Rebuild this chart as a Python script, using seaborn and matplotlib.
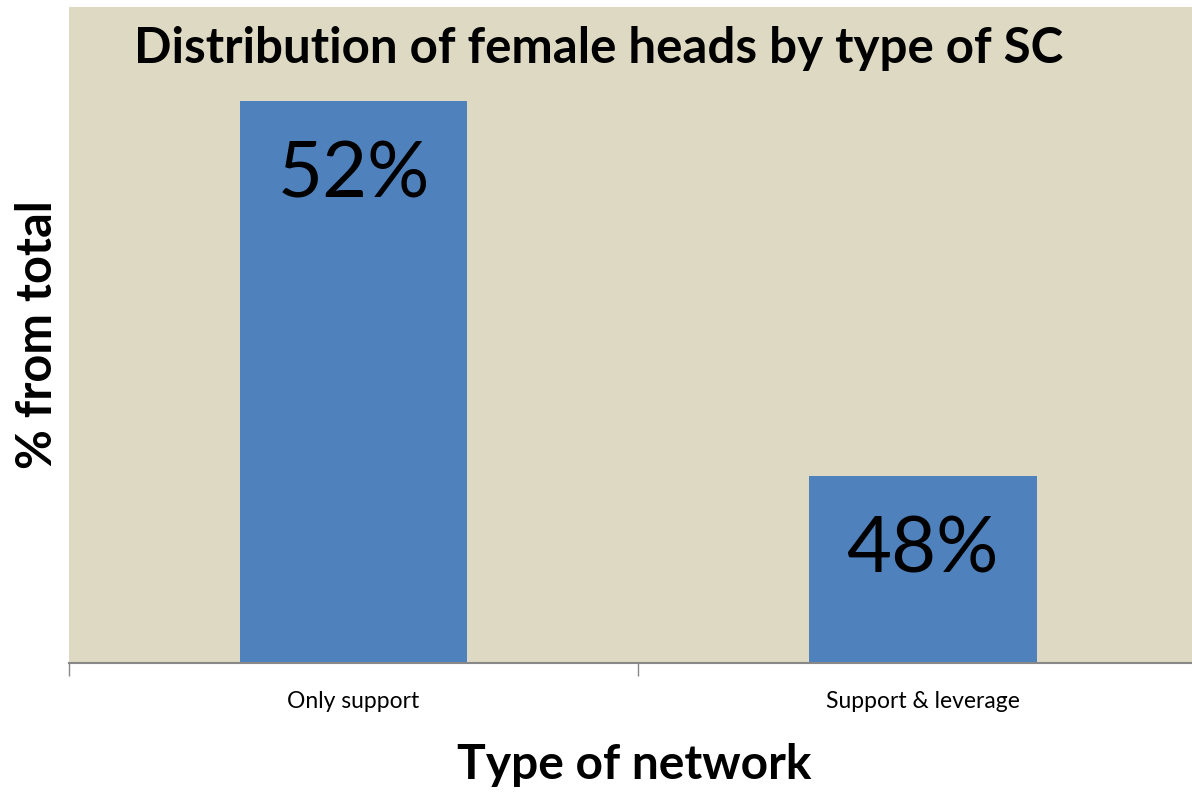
import matplotlib
matplotlib.use("Agg")
import matplotlib.pyplot as plt
import seaborn as sns
import pandas as pd

# values
categories = ["Only support", "Support & leverage"]
shares = [52, 48]
labels = ["52%", "48%"]

df = pd.DataFrame({"network": categories, "share": shares})

sns.set_style("white")
plt.rcParams['font.family'] = ['Lato', 'DejaVu Sans']
plt.rcParams['text.color'] = 'black'
plt.rcParams['axes.labelcolor'] = 'black'
plt.rcParams['xtick.color'] = 'black'

fig = plt.figure(figsize=(11.92, 7.98), dpi=100)
ax = fig.add_axes([0.0579, 0.1692, 0.9421, 0.822])
ax.set_facecolor("#DDD9C3")

sns.barplot(data=df, x="network", y="share", color="#4F81BD",
            width=0.4, saturation=1, edgecolor="none", linewidth=0, ax=ax)

ax.set_xlim(-0.5, 1.473)
ax.set_ylim(46, 53)

for i, (v, lab) in enumerate(zip(shares, labels)):
    ax.text(i, v - 0.8, lab, ha="center", va="center", fontsize=56)

fig.text(0.502, 0.968, "Distribution of female heads by type of SC",
         ha="center", va="top", fontsize=35.5, fontweight="bold")

ax.set_xlabel("Type of network", fontsize=34.5, fontweight="bold")
ax.xaxis.set_label_coords(0.503, -0.122)
ax.set_ylabel("% from total", fontsize=35, fontweight="bold")
ax.yaxis.set_label_coords(-0.008, 0.5)

ax.set_yticks([])
ax.tick_params(axis="x", which="major", length=0, labelsize=16.5, pad=20)
# category boundary ticks, Excel style (none at the right edge)
ax.set_xticks([-0.5, 0.5], minor=True)
ax.tick_params(axis="x", which="minor", bottom=True, length=9,
               color="#888888", width=1)

for side in ["top", "right", "left"]:
    ax.spines[side].set_visible(False)
ax.spines["bottom"].set_color("#888888")
ax.spines["bottom"].set_linewidth(1.5)

fig.savefig("out.png", dpi=100)
